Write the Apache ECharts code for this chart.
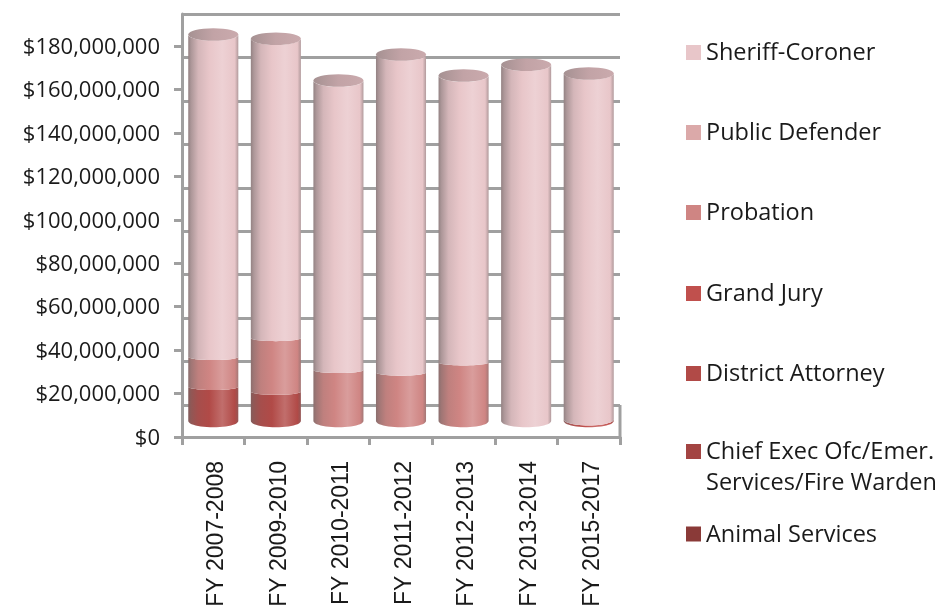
<!DOCTYPE html>
<html>
<head>
<meta charset="utf-8">
<style>
  html, body { margin: 0; padding: 0; background: #fff; }
  #chart { width: 941px; height: 606px; }
</style>
<script src="https://cdn.jsdelivr.net/npm/echarts@6/dist/echarts.min.js"></script>
</head>
<body>
<div id="chart"></div>
<script>
const categories = ['FY 2007-2008', 'FY 2009-2010', 'FY 2010-2011', 'FY 2011-2012', 'FY 2012-2013', 'FY 2013-2014', 'FY 2015-2017'];

// dollars
const animalServices = [0, 0, 0, 0, 0, 0, 0];
const chiefExec = [0, 0, 0, 0, 0, 0, 0];
const districtAttorney = [15700000, 13500000, 0, 0, 0, 0, 0];
const grandJury = [0, 0, 0, 0, 0, 0, 800000];
const probation = [13800000, 24700000, 23500000, 22300000, 27000000, 0, 0];
const publicDefender = [0, 0, 0, 0, 0, 0, 0];
const sheriffCoroner = [148400000, 137800000, 133200000, 146400000, 132000000, 164000000, 159200000];

// bottom of the stack first
const stackNames = ['Animal Services', 'Chief Exec Ofc/Emer.\nServices/Fire Warden', 'District Attorney', 'Grand Jury', 'Probation', 'Public Defender', 'Sheriff-Coroner'];
const stackValues = [animalServices, chiefExec, districtAttorney, grandJury, probation, publicDefender, sheriffCoroner];
const stackColors = ['#8a3a38', '#a34442', '#b14a47', '#c0504d', '#cf8583', '#dba9a9', '#e8c6c9'];

const legendNames = ['Sheriff-Coroner', 'Public Defender', 'Probation', 'Grand Jury', 'District Attorney', 'Chief Exec Ofc/Emer.\nServices/Fire Warden', 'Animal Services'];
const legendCenters = [52.5, 132.5, 212.5, 293.5, 373.5, 454, 534];

const lineColor = '#a0a0a0';
const textColor = '#1a1a1a';
// bars stand half way between the front axis and the back wall
const wallLift = 32;
const barLift = 16;

const totals = categories.map((c, i) => stackValues.reduce((sum, s) => sum + s[i], 0));

function mix(a, b, t) {
  return echarts.color.lerp(t, [a, b]);
}

function bodyFill(color) {
  const shade = '#6e6565';
  const light = mix(color, '#ffffff', 0.2);
  return new echarts.graphic.LinearGradient(0, 0, 1, 0, [
    { offset: 0, color: mix(color, shade, 0.7) },
    { offset: 0.06, color: mix(color, shade, 0.48) },
    { offset: 0.2, color: mix(color, shade, 0.16) },
    { offset: 0.42, color: color },
    { offset: 0.68, color: light },
    { offset: 0.93, color: color },
    { offset: 1, color: mix(color, shade, 0.45) }
  ]);
}

function arcPoints(cx, cy, rx, ry, from, to) {
  const pts = [];
  for (let k = 0; k <= 24; k++) {
    const a = from + (to - from) * k / 24;
    pts.push([cx + rx * Math.cos(a), cy + ry * Math.sin(a)]);
  }
  return pts;
}

function renderCylinder(params, api) {
  const cat = api.value(0);
  const start = api.value(1);
  const end = api.value(2);
  if (end <= start) return;
  const cx = api.coord([cat, 0])[0];
  const rx = api.size([1, 0])[0] * 0.4;
  const ry = rx * 0.25;
  const yBottom = api.coord([cat, start])[1] - barLift;
  const yTop = api.coord([cat, end])[1] - barLift;
  const color = api.visual('color');
  // joins inside the stack sag less than the base and the rim, unless they sit right on the base
  const sag = (v) => (v >= totals[cat] || api.size([0, v])[1] < 2 * ry ? ry : ry * 0.5);
  const pts = arcPoints(cx, yBottom, rx, sag(start), Math.PI, 0).concat(arcPoints(cx, yTop, rx, sag(end), 0, Math.PI));
  const children = [{
    type: 'polygon',
    shape: { points: pts },
    style: { fill: bodyFill(color) }
  }];
  if (end >= totals[cat]) {
    children.push({
      type: 'ellipse',
      shape: { cx: cx, cy: yTop, rx: rx, ry: ry },
      style: {
        fill: new echarts.graphic.LinearGradient(0, 0, 1, 0, [
          { offset: 0, color: mix(color, '#6e6565', 0.55) },
          { offset: 0.5, color: mix(color, '#8a6f72', 0.4) },
          { offset: 1, color: mix(color, '#8a6f72', 0.32) }
        ])
      }
    });
  }
  return { type: 'group', children: children };
}

function money(v) {
  return '{t|$' + v.toLocaleString('en-US') + '}';
}

const series = stackNames.map((name, s) => ({
  name: name,
  type: 'custom',
  xAxisIndex: 0,
  yAxisIndex: 0,
  itemStyle: { color: stackColors[s] },
  encode: { x: 0, y: [1, 2] },
  renderItem: renderCylinder,
  data: categories.map((c, i) => {
    let base = 0;
    for (let k = 0; k < s; k++) base += stackValues[k][i];
    return [i, base, base + stackValues[s][i]];
  })
}));

const legends = legendNames.map((name, i) => {
  const twoLines = name.indexOf('\n') >= 0;
  const lh = twoLines ? 31 : 26;
  // a blank first line keeps the swatch level with the first line of text
  const lines = twoLines ? ['\u00a0'].concat(name.split('\n')) : [name];
  return {
    data: [{ name: name, icon: 'rect' }],
    orient: 'vertical',
    left: 686,
    top: legendCenters[i] - lines.length * lh / 2,
    padding: 0,
    itemWidth: 15,
    itemHeight: 15,
    selectedMode: false,
    formatter: () => lines.map((l) => '{t|' + l + '}').join('\n'),
    textStyle: {
      rich: {
        t: { padding: [2, 0, 0, 0], lineHeight: lh, fontFamily: 'Open Sans', fontSize: 23.5, color: textColor }
      }
    }
  };
});

const chart = echarts.init(document.getElementById('chart'), null, { renderer: 'canvas' });
chart.setOption({
  animation: false,
  backgroundColor: '#fff',
  tooltip: { show: false },
  legend: legends,
  grid: [
    { left: 182, right: 321, top: 46, bottom: 169, outerBoundsMode: 'none' },
    // back wall of the 3d box
    { left: 182, right: 321, top: 46 - wallLift, bottom: 169 + wallLift, outerBoundsMode: 'none' }
  ],
  xAxis: [{
    type: 'category',
    gridIndex: 0,
    data: categories,
    axisLine: { lineStyle: { color: lineColor, width: 3 } },
    axisTick: { show: true, alignWithLabel: false, length: 8, lineStyle: { color: lineColor, width: 3 } },
    axisLabel: {
      rotate: 90,
      interval: 0,
      margin: 24,
      formatter: (v) => '{t|' + v + '}',
      rich: { t: { padding: [7, 0, 0, 0], fontFamily: 'Liberation Sans', fontSize: 23, color: textColor } }
    }
  }, {
    type: 'category',
    gridIndex: 1,
    data: categories,
    show: false
  }],
  yAxis: [{
    type: 'value',
    gridIndex: 0,
    min: 0,
    max: 180000000,
    interval: 20000000,
    axisLine: { show: true, lineStyle: { color: lineColor, width: 3 } },
    axisTick: { show: true, length: 8, lineStyle: { color: lineColor, width: 3 } },
    splitLine: { show: false },
    axisLabel: {
      margin: 22,
      formatter: money,
      rich: { t: { padding: [3, 0, 0, 0], fontFamily: 'Open Sans', fontSize: 22, color: textColor } }
    }
  }, {
    type: 'value',
    gridIndex: 1,
    min: 0,
    max: 180000000,
    interval: 20000000,
    axisLine: { show: true, lineStyle: { color: lineColor, width: 3 } },
    axisTick: { show: false },
    axisLabel: { show: false },
    splitLine: { show: true, lineStyle: { color: lineColor, width: 3 } }
  }],
  graphic: [{
    type: 'line',
    shape: { x1: 620, y1: 437 - wallLift, x2: 620, y2: 437 },
    style: { stroke: lineColor, lineWidth: 3 }
  }],
  series: series
});
</script>
</body>
</html>
